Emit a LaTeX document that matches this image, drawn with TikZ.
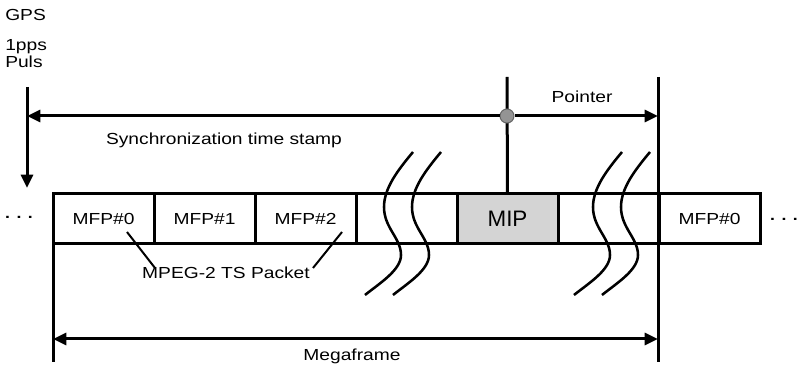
\documentclass[tikz,border=0pt]{standalone}
\usepackage{fontspec}
\setmainfont[FakeStretch=1.2]{Liberation Sans}
\newfontfamily\mipfont{Liberation Sans}
\usetikzlibrary{arrows.meta,positioning}

\begin{document}
\begin{tikzpicture}[x=0.75pt,y=-0.75pt,font=\fontsize{12}{12.75}\selectfont,>={Triangle[length=10pt,width=9pt]},
  c/.style={draw,line width=2.25pt,minimum width=75.75pt,minimum height=37.5pt,inner sep=0pt,outer sep=0pt},
  ln/.style={line width=2.25pt},
  wv/.style={line width=1.9pt},
  ld/.style={line width=1.5pt}]
\useasboundingbox (0,0) rectangle (797,366);
% megaframe cells
\node[c] (c0) at (103.5,219) {MFP\#0};
\node[c,right=0pt of c0] (c1) {MFP\#1};
\node[c,right=0pt of c1] (c2) {MFP\#2};
\node[c,right=0pt of c2] (c3) {};
\node[c,fill=black!17,right=0pt of c3,font=\mipfont\fontsize{16.8}{18}\selectfont] (mip) {MIP};
\node[c,right=0pt of mip] (c5) {};
\node[c,right=0pt of c5] (c6) {MFP\#0};
\node[font=\fontsize{11}{11}\bfseries] (ldots) at (19,217) {. . .};
\node[font=\fontsize{11}{11}\bfseries,inner sep=0pt] (rdots) at (784,219) {. . .};
% texts
\node[anchor=west,inner sep=0pt] (gps) at (5,15) {GPS};
\node[anchor=north west,align=left,inner sep=0pt] (pps) at (5,39) {1pps\\Puls};
\node (sync) at (224,140) {Synchronization time stamp};
\node (ptr) at (582,97) {Pointer};
\node (pk) at (226,273) {MPEG-2 TS Packet};
\node (mf) at (352,356) {Megaframe};
% lines
\coordinate (top0) at (507,77);
\coordinate (top1) at (658,77);
\coordinate (bot1) at (658,362);
\coordinate (bot0) at (53,362);
\coordinate (ss) at (27,116);
\coordinate (pa) at (27,87);
\coordinate (pb) at (27,188);
\coordinate (mf0) at (53,339);
\coordinate (mf1) at (658,339);
\draw[ln] (mip.north) -- (top0);
\draw[ln] (top1) -- (bot1);
\draw[ln] (c0.south west) -- (bot0);
\node[circle,fill=black!42,draw=black!60,line width=0.75pt,minimum size=10.5pt,inner sep=0pt] (dot) at (507,116) {};
\draw[ln,->] (dot) -- (ss);
\draw[ln,->] (dot) -- (top1 |- dot);
\draw[ln,->] (pa) -- (pb);
\draw[ln,<->] (mf0) -- (mf1);
% leaders
\coordinate (k0) at (127,232);
\coordinate (k1) at (342,232);
\draw[ld] (k0) -- ++(28,36);
\draw[ld] (k1) -- ++(-29,36);
% breaks
\draw[wv] (413,152) .. controls (398,170) and (384,188) .. (384,207) .. controls (384,228) and (401,238) .. (401,255) .. controls (401,270) and (380,283) .. (365,295);
\draw[wv,shift={(28,0)}] (413,152) .. controls (398,170) and (384,188) .. (384,207) .. controls (384,228) and (401,238) .. (401,255) .. controls (401,270) and (380,283) .. (365,295);
\draw[wv,shift={(209,0)}] (413,152) .. controls (398,170) and (384,188) .. (384,207) .. controls (384,228) and (401,238) .. (401,255) .. controls (401,270) and (380,283) .. (365,295);
\draw[wv,shift={(237,0)}] (413,152) .. controls (398,170) and (384,188) .. (384,207) .. controls (384,228) and (401,238) .. (401,255) .. controls (401,270) and (380,283) .. (365,295);
\end{tikzpicture}
\end{document}
